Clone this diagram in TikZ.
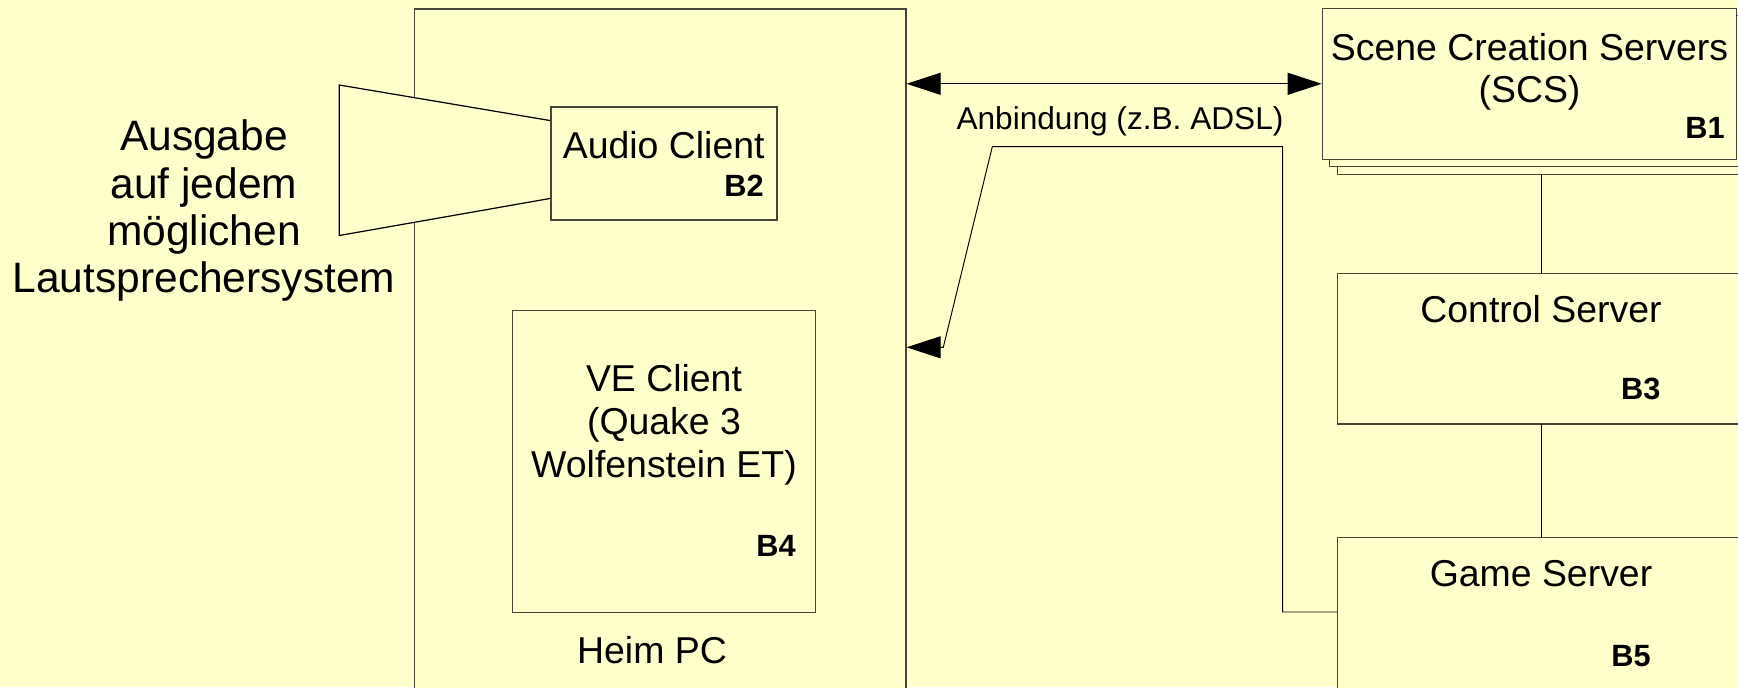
\documentclass[tikz,border=0pt]{standalone}
\usepackage{fontspec}
\setmainfont{Liberation Sans}
\usetikzlibrary{arrows.meta}
\definecolor{bgyellow}{HTML}{FFFFCC}
\definecolor{boxline}{HTML}{45453A}

\begin{document}
\begin{tikzpicture}[x=0.02cm,y=-0.02cm,>={Triangle[length=0.68cm,width=0.44cm]},line cap=round,
  box/.style={draw=boxline,line width=0.7pt,fill=bgyellow,inner sep=0pt},
  txt/.style={inner sep=0pt,font=\fontsize{21.3}{24.2}\selectfont},
  tag/.style={inner sep=0pt,anchor=base east,font=\fontsize{17.5}{20}\selectfont\bfseries},
  link/.style={draw=black,line width=0.55pt}]
\useasboundingbox (0,0) rectangle (1738,687);
\fill[bgyellow] (0,0) rectangle (1738,687);
\begin{scope}
\clip (0,0) rectangle (1738,687);
\node[box,minimum width=9.83cm,minimum height=14.62cm] (pc) at (660.3,374.5) {};
\draw[box,draw=black] (339.3,85) -- (551,120.7) -- (551,198.3) -- (339.3,235.5) -- cycle;
\node[box,minimum width=4.52cm,minimum height=2.26cm] (audio) at (664,163.5) {};
\node[box,minimum width=6.05cm,minimum height=6.04cm] (ve) at (664,461.7) {};
\node[box,minimum width=8.29cm,minimum height=3.02cm] (scs3) at (1544.5,98.8) {};
\node[box,minimum width=8.29cm,minimum height=3.02cm] (scs2) at (1537,91.3) {};
\node[box,minimum width=8.29cm,minimum height=3.02cm] (scs) at (1529.5,83.8) {};
\node[box,minimum width=8.15cm,minimum height=3.01cm] (ctrl) at (1541,348.7) {};
\node[box,minimum width=8.15cm,minimum height=4.05cm] (game) at (1541,638.7) {};
\node[inner sep=0pt,align=center,anchor=north,font=\fontsize{24.2}{27}\selectfont] (out) at (204,119.5) {Ausgabe\\auf jedem\\möglichen\\Lautsprechersystem};
\node[txt,anchor=base] (audiolbl) at (663.7,158.3) {Audio Client};
\node[tag] (audiotag) at (764,196.4) {B2};
\node[txt,align=center,anchor=north] (velbl) at (664,364.5) {VE Client\\(Quake 3\\Wolfenstein ET)};
\node[tag] (vetag) at (796,556.4) {B4};
\node[txt,anchor=base] (pclbl) at (652,663.3) {Heim PC};
\node[txt,align=center,anchor=north] (scslbl) at (1529.5,33) {Scene Creation Servers\\(SCS)};
\node[tag] (scstag) at (1725,138) {B1};
\node[txt,anchor=base] (ctrllbl) at (1541,322.6) {Control Server};
\node[tag] (ctrltag) at (1660.7,399.7) {B3};
\node[txt,anchor=base] (gamelbl) at (1541,586.6) {Game Server};
\node[tag] (gametag) at (1651,666.4) {B5};
\node[inner sep=0pt,anchor=base,font=\fontsize{18}{21}\selectfont] (linklbl) at (1120,129) {Anbindung (z.B. ADSL)};
\coordinate (gy) at (0,612);
\coordinate (py) at (0,347.3);
\draw[link,<->] (pc.east |- scs.west) -- (scs.west);
\draw[link] (ctrl.north |- scs3.south) -- (ctrl.north);
\draw[link] (ctrl.south) -- (game.north);
\draw[link,->] (game.west |- gy) -- (1282.7,612) -- (1282.7,146.7) -- (992.3,146.7) -- (943.3,347.3) -- (pc.east |- py);
\end{scope}
\end{tikzpicture}
\end{document}
